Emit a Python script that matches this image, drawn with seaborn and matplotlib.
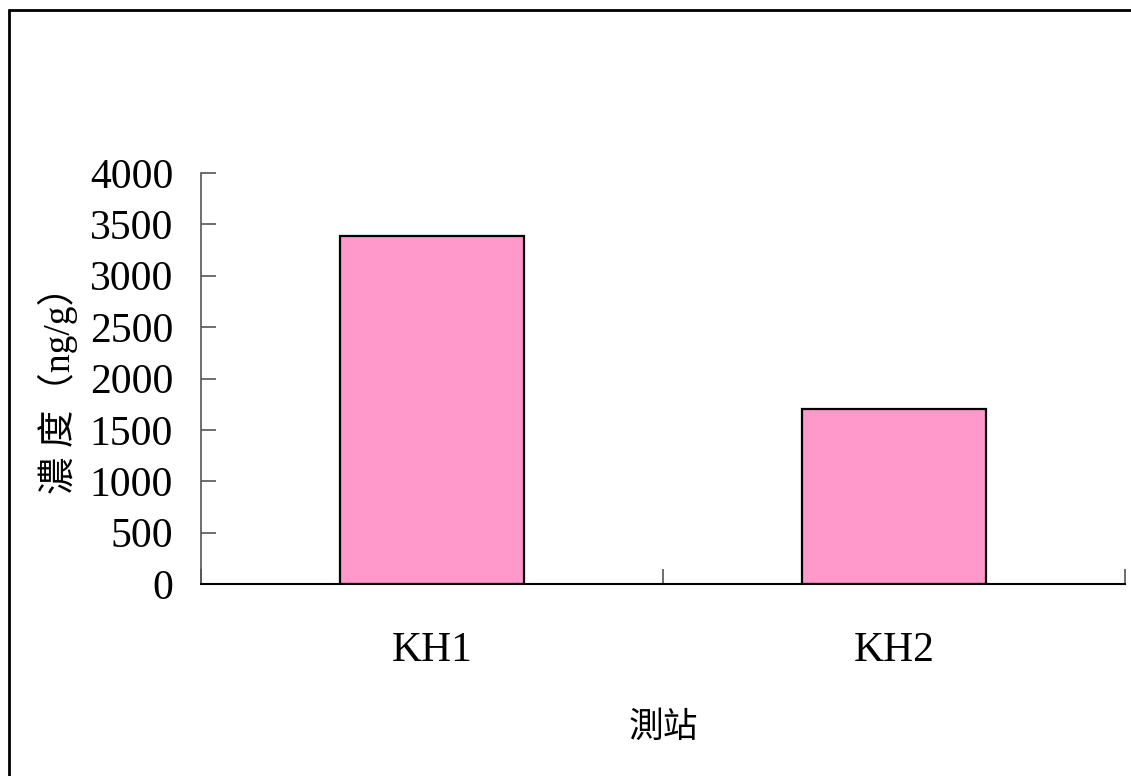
import pandas as pd
import matplotlib.pyplot as plt
import seaborn as sns
from matplotlib.lines import Line2D

# dati
stations = ['KH1', 'KH2']
concentration = [3385, 1700]
y_ticks = [0, 500, 1000, 1500, 2000, 2500, 3000, 3500, 4000]

df = pd.DataFrame({'station': stations, 'conc': concentration})

sns.set_theme(style='white')
plt.rcParams['font.family'] = ['Liberation Serif', 'Noto Sans CJK TC', 'DejaVu Sans']
plt.rcParams['text.color'] = 'black'
plt.rcParams['xtick.color'] = 'black'
plt.rcParams['ytick.color'] = 'black'

fig = plt.figure(figsize=(11.31, 7.76), dpi=100)
ax = fig.add_axes([201 / 1131, 1 - 584 / 776, (1125 - 201) / 1131, (584 - 173) / 776])

sns.barplot(data=df, x='station', y='conc', color='#FF99CC', saturation=1,
            width=0.4, edgecolor='black', linewidth=1.6, ax=ax)

ax.set_xlim(-0.5, 1.5)
ax.set_ylim(0, 4000)
ax.set_yticks(y_ticks)
ax.set_yticklabels([str(v) for v in y_ticks], fontsize=30)
ax.tick_params(axis='y', left=True, direction='in', length=11, width=1.2,
               color='#555555', labelcolor='black', pad=20)

# etichette categorie senza tacche, tacche ai confini
ax.set_xticks([0, 1])
ax.set_xticklabels(stations, fontsize=30)
ax.tick_params(axis='x', which='major', bottom=True, length=0, pad=34, labelcolor='black')
ax.set_xticks([-0.5, 0.5, 1.5], minor=True)
ax.tick_params(axis='x', which='minor', bottom=True, direction='in', length=11, width=1.2,
               color='#555555')

for side in ['top', 'right']:
    ax.spines[side].set_visible(False)
ax.spines['left'].set_color('#555555')
ax.spines['left'].set_linewidth(1.2)
ax.spines['bottom'].set_color('black')
ax.spines['bottom'].set_linewidth(1.5)

ax.set_xlabel('')
ax.set_ylabel('')
fig.text(58 / 1131, 1 - 381 / 776, '濃 度（ng/g）', rotation=90, fontsize=27,
         ha='center', va='center', color='black',
         family=['Liberation Serif', 'Noto Sans CJK TC'])
fig.text(663 / 1131, 1 - 727 / 776, '測站', fontsize=25,
         ha='center', va='center', color='black', family=['Noto Sans CJK TC'])

# cornice esterna
fig.add_artist(Line2D([9 / 1131, 9 / 1131], [0, 1 - 9.5 / 776], transform=fig.transFigure,
                      color='black', linewidth=2))
fig.add_artist(Line2D([9 / 1131, 1], [1 - 9.5 / 776, 1 - 9.5 / 776], transform=fig.transFigure,
                      color='black', linewidth=2))

fig.savefig('out.png', dpi=100)
